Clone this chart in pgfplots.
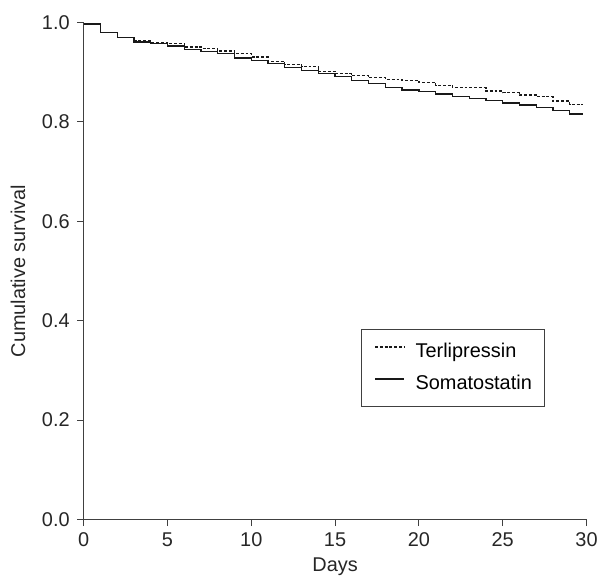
\documentclass[border=0pt]{standalone}
\usepackage{fontspec}
\setmainfont{Liberation Sans}
\usepackage{pgfplots}
\pgfplotsset{compat=1.18}

% Kaplan-Meier estimates (day, survival)
\pgfplotstableread{
day   surv
0     0.997
1     0.980
2     0.970
3     0.963
4     0.960
5     0.958
6     0.951
7     0.948
8     0.943
9     0.938
10    0.931
11    0.922
12    0.916
13    0.911
14    0.902
15    0.897
16    0.893
17    0.889
18    0.886
19    0.884
20    0.880
21    0.874
22    0.869
23    0.869
24    0.862
25    0.859
26    0.854
27    0.851
28    0.842
29    0.835
29.8  0.835
}\terli

\pgfplotstableread{
day   surv
0     0.997
1     0.980
2     0.970
3     0.961
4     0.958
5     0.953
6     0.946
7     0.942
8     0.938
9     0.929
10    0.923
11    0.918
12    0.910
13    0.904
14    0.898
15    0.891
16    0.884
17    0.878
18    0.869
19    0.864
20    0.861
21    0.856
22    0.851
23    0.847
24    0.843
25    0.838
26    0.834
27    0.829
28    0.823
29    0.816
29.8  0.816
}\somato

\begin{document}
\begin{tikzpicture}
\begin{axis}[
    scale only axis,
    width=378.75pt,
    height=374.25pt,
    xmin=0, xmax=30,
    ymin=0, ymax=1,
    xtick={0,5,...,30},
    ytick={0,0.2,...,1.0},
    yticklabel style={xshift=-2pt, /pgf/number format/.cd, fixed, fixed zerofill, precision=1},
    /pgf/number format/assume math mode=true,
    axis x line*=bottom,
    axis y line*=left,
    axis line style={black!75, line width=0.7pt},
    tick style={black!75, line width=0.7pt},
    tick align=outside,
    major tick length=5pt,
    tick label style={font=\fontsize{15}{18}\selectfont, text=black!85},
    xticklabel style={yshift=-1.5pt},
    label style={font=\fontsize{15}{18}\selectfont, text=black!85},
    xlabel={Days},
    ylabel={Cumulative survival},
    xlabel style={at={(axis description cs:0.5,-0.096)}, anchor=center},
    ylabel style={at={(axis description cs:-0.1307,0.5)}, anchor=center},
    clip=false,
    legend style={
        at={(axis cs:16.57,0.226)}, anchor=south west,
        draw=black!75, line width=0.7pt,
        font=\fontsize{15}{18}\selectfont,
        nodes={inner sep=0pt, text height=11pt, text depth=3.3pt},
        inner xsep=9.5pt, inner ysep=9.8pt,
        column sep=8pt,
        row sep=9.7pt,
        legend cell align=left,
    },
    legend image code/.code={
        \draw[#1] (0pt,4pt) -- (22pt,4pt);
    },
]
\addplot[const plot, black!90, line width=1pt, dash pattern=on 2.2pt off 1.4pt] table[x=day, y=surv] {\terli};
\addlegendentry{Terlipressin}
\addplot[const plot, black!90, line width=1pt] table[x=day, y=surv] {\somato};
\addlegendentry{Somatostatin}
% white margin as in the reference
\path (axis description cs:0,0) ++(-63pt,-46pt);
\path (axis description cs:1,1) ++(9.75pt,17pt);
\end{axis}
\end{tikzpicture}
\end{document}
